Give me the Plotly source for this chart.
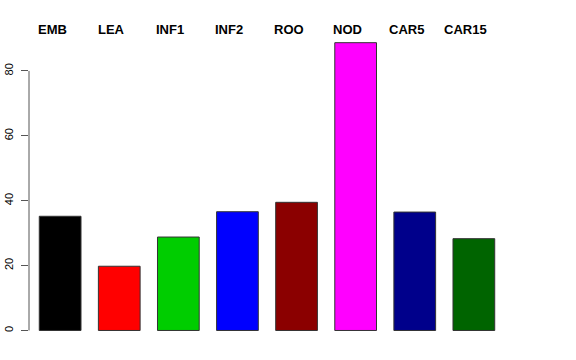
import plotly.graph_objects as go

categories = ["EMB", "LEA", "INF1", "INF2", "ROO", "NOD", "CAR5", "CAR15"]
values = [35.2, 19.8, 28.8, 36.6, 39.5, 88.7, 36.5, 28.3]
colors = ["#000000", "#FF0000", "#00CD00", "#0000FF", "#8B0000", "#FF00FF", "#00008B", "#006400"]
y_ticks = [0, 20, 40, 60, 80]

xpos = list(range(len(categories)))

fig = go.Figure()
fig.add_trace(go.Bar(
    x=xpos, y=values, width=0.706,
    marker=dict(color=colors, line=dict(color="#333333", width=1)),
    hoverinfo="skip",
))

for i, c in enumerate(categories):
    fig.add_annotation(x=i, xref="x", y=1, yref="paper", text=f"<b>{c}</b>",
                       showarrow=False, xanchor="center", yanchor="middle",
                       xshift=-8, yshift=2,
                       font=dict(family="Liberation Sans, Arial", size=13, color="black"))

# R-style y axis line from first to last tick
fig.add_shape(type="line", xref="paper", yref="y", x0=0, x1=0, y0=y_ticks[0], y1=y_ticks[-1],
              line=dict(color="#555555", width=1))

fig.update_layout(
    width=576, height=360,
    margin=dict(l=28.5, r=71, t=31, b=17.5, autoexpand=False),
    paper_bgcolor="white", plot_bgcolor="white",
    showlegend=False,
    font=dict(family="Liberation Sans, Arial", size=11, color="black"),
    xaxis=dict(range=[-0.527, 7.527], visible=False, showgrid=False, zeroline=False, automargin=False),
    yaxis=dict(range=[-3.55, 92.3], tickvals=y_ticks, ticktext=[str(v) for v in y_ticks],
               ticks="outside", ticklen=7, tickcolor="#555555", tickwidth=1,
               showline=False, showgrid=False, zeroline=False, tickangle=-90, automargin=False,
               tickfont=dict(size=11, color="black"), ticklabelstandoff=4),
)

fig.write_html("out.html", config={"displayModeBar": False, "staticPlot": True},
               post_script="document.body.style.margin='0';document.body.style.padding='0';")
